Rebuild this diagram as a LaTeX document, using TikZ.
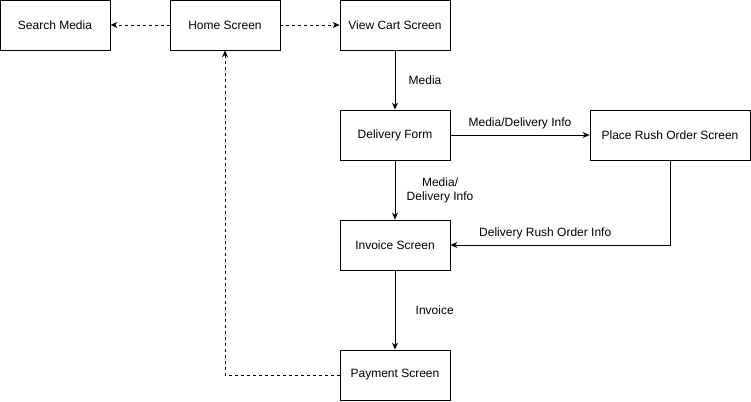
\documentclass[tikz,border=0pt]{standalone}
\usepackage{fontspec}
\setmainfont{Liberation Sans}
\usetikzlibrary{arrows.meta}

\begin{document}
\begin{tikzpicture}[x=1pt, y=-1pt, >={Stealth[length=7pt,width=6pt]},
    font=\fontsize{12}{14}\selectfont,
    screen/.style={draw, line width=0.8pt, minimum width=110pt, minimum height=50pt, inner sep=0pt},
    flow/.style={->, line width=0.8pt},
    back/.style={->, line width=0.8pt, dash pattern=on 3pt off 3pt}]
    % Page frame
    \useasboundingbox (0,0) rectangle (751,401);

    % Screens
    \node[screen] (search) at (55,25) {Search Media};
    \node[screen] (home) at (225,25) {Home Screen};
    \node[screen] (cart) at (395,25) {View Cart Screen};
    \node[screen] (delivery) at (395,135) {Delivery Form};
    \node[screen, minimum width=160pt] (rush) at (670,135) {Place Rush Order Screen};
    \node[screen] (invoice) at (395,245) {Invoice Screen};
    \node[screen] (payment) at (395,375) {Payment Screen};

    % Navigation from home
    \draw[back] (home.west) -- (search.east);
    \draw[back] (home.east) -- (cart.west);
    \draw[back] (payment.west) -| (home.south);

    % Data flow
    \draw[flow] (cart.south) -- (delivery.north)
        node[midway, right, xshift=10pt] {Media};
    \draw[flow] (delivery.east) -- (rush.west)
        node[midway, above, yshift=2pt] {Media/Delivery Info};
    \draw[flow] (delivery.south) -- (invoice.north)
        node[midway, right, align=center, xshift=8pt] {Media/\\Delivery Info};
    \draw[flow] (rush.south) |- (invoice.east)
        node[pos=0.75, above, xshift=-15pt, yshift=2pt] {Delivery Rush Order Info};
    \draw[flow] (invoice.south) -- (payment.north)
        node[midway, right, xshift=17pt] {Invoice};

\end{tikzpicture}
\end{document}
